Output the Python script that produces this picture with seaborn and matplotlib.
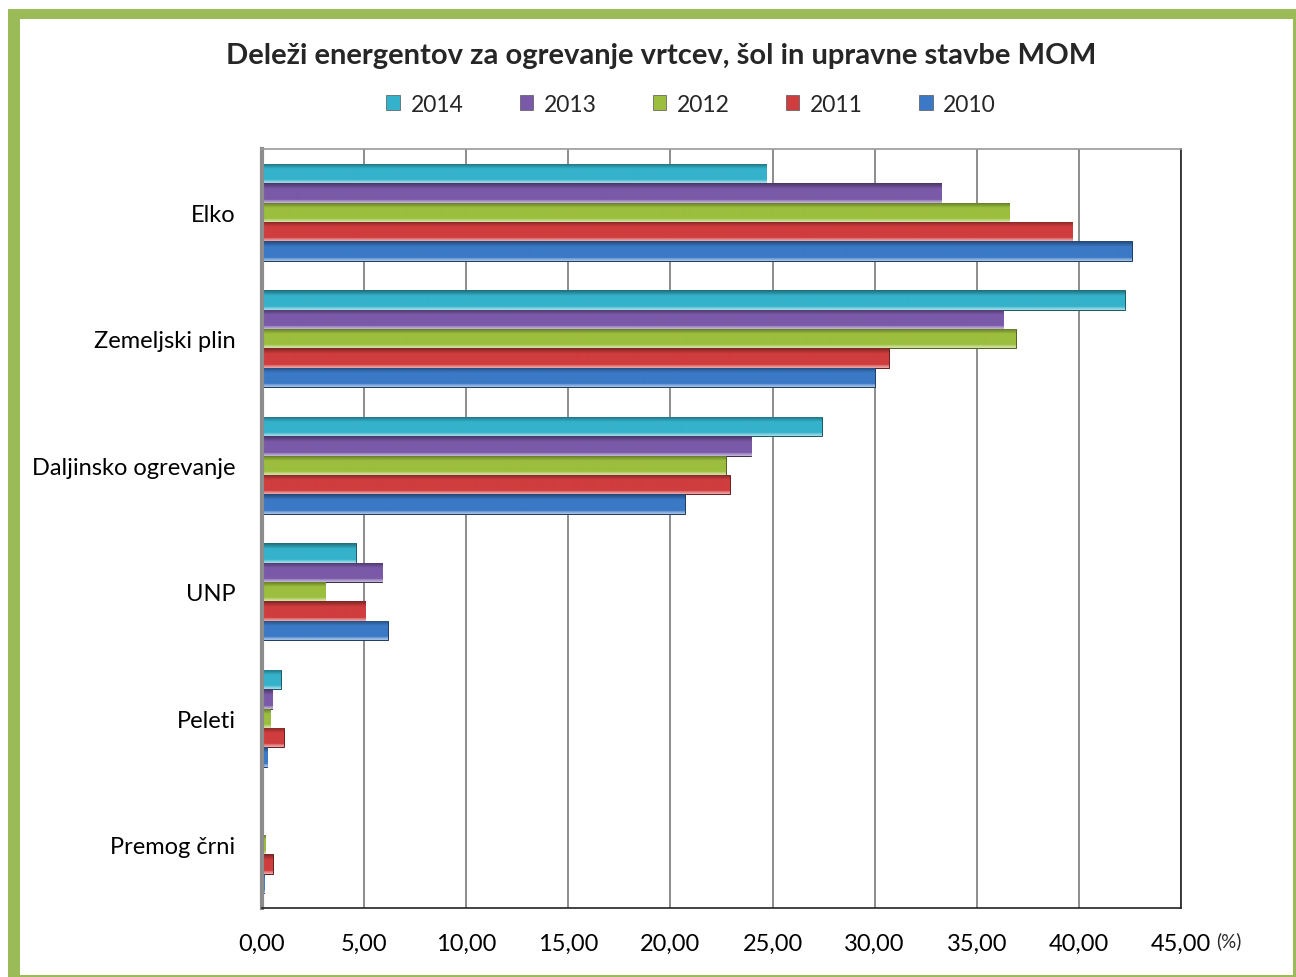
import numpy as np
import pandas as pd
import matplotlib
matplotlib.use("Agg")
import matplotlib.pyplot as plt
import matplotlib.colors as mcolors
from matplotlib.patches import Rectangle
from matplotlib.ticker import FuncFormatter, MultipleLocator
import seaborn as sns

# Deleži energentov (%) po letih
energenti = ["Elko", "Zemeljski plin", "Daljinsko ogrevanje", "UNP", "Peleti", "Premog črni"]
leta = ["2014", "2013", "2012", "2011", "2010"]

delez_2014 = [24.68, 42.25, 27.40, 4.58, 0.91, 0.00]
delez_2013 = [33.27, 36.30, 23.96, 5.90, 0.50, 0.00]
delez_2012 = [36.60, 36.90, 22.70, 3.10, 0.40, 0.16]
delez_2011 = [39.67, 30.70, 22.90, 5.05, 1.06, 0.52]
delez_2010 = [42.60, 30.00, 20.70, 6.15, 0.26, 0.11]

barve = ["#35B2CB", "#7A5AA8", "#9CBE3E", "#D03D3E", "#3B79C6"]

vrednosti = {"2014": delez_2014, "2013": delez_2013, "2012": delez_2012,
             "2011": delez_2011, "2010": delez_2010}
df = pd.DataFrame([
    {"energent": e, "leto": l, "delez": v}
    for l in leta for e, v in zip(energenti, vrednosti[l])
])

sns.set_theme(style="white")
plt.rcParams["font.family"] = ["Lato", "DejaVu Sans"]

W, H = 1296, 978
fig = plt.figure(figsize=(W / 100, H / 100), dpi=100)

# green frame around the chart
fig.patches.append(Rectangle((8 / W, 0), 1 - 8 / W, 1 - 10 / H, transform=fig.transFigure,
                             facecolor="#9BBB59", edgecolor="none", zorder=-10))
fig.patches.append(Rectangle((20 / W, 2 / H), (1293 - 20) / W, (976 - 20) / H,
                             transform=fig.transFigure, facecolor="white",
                             edgecolor="none", zorder=-9))

ax = fig.add_axes([262 / W, 1 - 909 / H, 919 / W, 759 / H])
ax.set_facecolor("none")

sns.barplot(data=df, y="energent", x="delez", hue="leto", order=energenti,
            hue_order=leta, palette=barve, orient="h", width=0.77, ax=ax,
            saturation=1, edgecolor="none", linewidth=0)

# beveled look: vertical light-to-dark gradient clipped to every bar
bars = [p for p in ax.patches if p.get_width() > 0]
for p in bars:
    base = np.array(mcolors.to_rgb(p.get_facecolor()))
    x0, y0 = p.get_x(), p.get_y()
    w, h = p.get_width(), p.get_height()
    t = np.linspace(0, 1, 40)
    light = base + (1 - base) * 0.55
    dark = base * 0.6
    cols = np.empty((40, 3))
    for i, s in enumerate(t):
        if s < 0.15:
            c = light * (1 - s / 0.15) + (base + (1 - base) * 0.2) * (s / 0.15)
        elif s < 0.72:
            c = base
        else:
            c = base * (1 - (s - 0.72) / 0.28) + dark * ((s - 0.72) / 0.28)
        cols[i] = c
    img = cols[:, None, :]
    im = ax.imshow(img, extent=[x0, x0 + w, y0 + h, y0], aspect="auto",
                   origin="lower", zorder=2.5, interpolation="bilinear")
    im.set_clip_path(p)
    p.set_edgecolor(tuple(base * 0.5))
    p.set_linewidth(0.7)
    p.set_zorder(2.4)

ax.set_xlim(0, 45)
ax.set_ylim(len(energenti) - 0.5, -0.5)
ax.xaxis.set_major_locator(MultipleLocator(5))
ax.xaxis.set_major_formatter(FuncFormatter(lambda v, _: f"{v:.2f}".replace(".", ",")))
ax.grid(axis="x", color="#8C8C8C", linewidth=1.4)
ax.grid(axis="y", visible=False)
ax.set_axisbelow(True)
ax.set_xlabel("")
ax.set_ylabel("")
ax.tick_params(axis="both", length=0, labelsize=17, colors="#000000")
ax.tick_params(axis="x", pad=18)
ax.tick_params(axis="y", pad=19)

for side in ["top", "right", "bottom"]:
    ax.spines[side].set_color("#222222")
    ax.spines[side].set_linewidth(1.2)
ax.spines["top"].set_color("#9A9A9A")
ax.spines["left"].set_color("#8C8C8C")
ax.spines["left"].set_linewidth(3)
for s in ax.spines.values():
    s.set_zorder(5)

leg = ax.legend(loc="center", bbox_to_anchor=(691 / W, 1 - 105 / H),
                bbox_transform=fig.transFigure, ncol=5, frameon=False,
                fontsize=16.5, handlelength=0.6, handleheight=0.6,
                handletextpad=0.45, columnspacing=2.45)
for hnd in leg.legend_handles:
    hnd.set_edgecolor("#555555")
    hnd.set_linewidth(0.5)

fig.text(661 / W, 1 - 56 / H,
         "Deleži energentov za ogrevanje vrtcev, šol in upravne stavbe MOM",
         ha="center", va="center", fontsize=21, fontweight="bold")
fig.text(1216 / W, 1 - 941 / H, "(%)", ha="left", va="center", fontsize=13.5)

fig.savefig("out.png", dpi=100)
